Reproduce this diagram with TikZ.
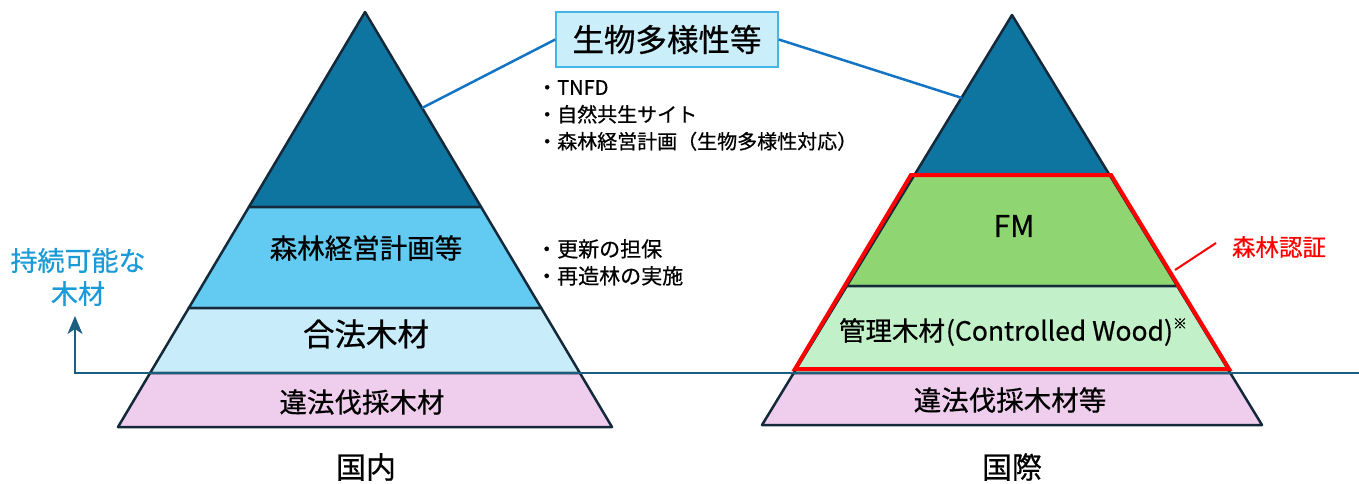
\documentclass[tikz,border=0pt]{standalone}
\usepackage{fontspec}
\setmainfont{Noto Sans CJK JP}[FakeBold=0.6]
\usetikzlibrary{arrows.meta}
\definecolor{dkteal}{HTML}{0E75A0}
\definecolor{midblue}{HTML}{63CAF1}
\definecolor{ltblue}{HTML}{C9ECFB}
\definecolor{pinkb}{HTML}{EFCDEC}
\definecolor{fmgreen}{HTML}{8FD672}
\definecolor{ltgreen}{HTML}{C2F0C8}
\definecolor{edgec}{HTML}{14293A}
\definecolor{hlinec}{HTML}{1B5E80}
\definecolor{connc}{HTML}{1474C4}
\definecolor{susblue}{HTML}{1A9AD6}
\definecolor{boxfill}{HTML}{CBEEFB}
\definecolor{boxedge}{HTML}{45B5E5}
\definecolor{certred}{HTML}{FF0000}
\newcommand{\fs}[2]{\fontsize{#1}{#2}\selectfont}
\begin{document}
\begin{tikzpicture}[x=1pt,y=-1pt,
  band/.style={draw=edgec, line width=2.5pt, line join=round},
  lbl/.style={inner sep=0pt, text=black},
  bullets/.style={inner sep=0pt, text=black, align=left, anchor=north west},
  conn/.style={draw=connc, line width=2.5pt}]
\useasboundingbox (0,0) rectangle (1359,484);
% ---------- left pyramid
\draw[band, fill=dkteal] (365,12) -- (481.1,207) -- (248.9,207) -- cycle;
\draw[band, fill=midblue] (248.9,207) -- (481.1,207) -- (541.2,308) -- (188.8,308) -- cycle;
\draw[band, fill=ltblue] (188.8,308) -- (541.2,308) -- (579.9,373) -- (150.1,373) -- cycle;
\draw[band, fill=pinkb] (150.1,373) -- (579.9,373) -- (612,427) -- (118,427) -- cycle;
% ---------- right pyramid
\draw[band, fill=dkteal] (1012,15) -- (1109.6,175) -- (914.4,175) -- cycle;
\draw[band, fill=fmgreen] (914.4,175) -- (1109.6,175) -- (1177.2,286) -- (846.8,286) -- cycle;
\draw[band, fill=ltgreen] (846.8,286) -- (1177.2,286) -- (1230.3,373) -- (793.7,373) -- cycle;
\draw[band, fill=pinkb] (793.7,373) -- (1230.3,373) -- (1262,425) -- (762,425) -- cycle;
% ---------- red certification outline
\draw[certred, line width=4pt, line join=miter] (911,175) -- (1111,175) -- (1229,369) -- (795,369) -- cycle;
% ---------- sustainability line and arrow
\node[inner sep=0pt, text=susblue, align=center, font=\fs{27}{33}] (sus) at (78,277) {持続可能な\\木材};
\coordinate (hlend) at (1359,373);
\coordinate (hlcorner) at (75,373);
\coordinate (arrtip) at (75,316);
\draw[hlinec, line width=2pt, -{Stealth[length=18pt,width=15pt,inset=5pt]}] (hlend) -- (hlcorner) -- (arrtip);
% ---------- biodiversity box
\node[draw=boxedge, fill=boxfill, line width=1.5pt, minimum width=222pt, minimum height=55pt, inner sep=0pt, font=\fs{31.5}{34}] (bio) at (667,39.5) {生物多様性等};
\coordinate (lp) at (422,108);
\coordinate (rp) at (962,98);
\draw[conn] (bio.west) -- (lp);
\draw[conn] (bio.east) -- (rp);
% ---------- bullet notes
\node[bullets, font=\fs{20}{27}] (notes1) at (537,80) {・TNFD\\・自然共生サイト\\・森林経営計画（生物多様性対応）};
\node[bullets, font=\fs{21}{27}] (notes2) at (536,239) {・更新の担保\\・再造林の実施};
% ---------- left labels
\node[lbl, font=\fs{27.5}{30}] (lforest) at (366,248) {森林経営計画等};
\node[lbl, font=\fs{31.5}{34}] (llegal) at (366,334) {合法木材};
\node[lbl, font=\fs{27.5}{30}] (lillegal) at (362,402) {違法伐採木材};
\node[lbl, font=\fs{30}{34}] (ldom) at (366,467) {国内};
% ---------- right labels
\node[lbl, font=\fs{30}{34}] (rfm) at (1014,226) {FM};
\node[lbl, font=\fs{26.5}{28}] (rcw) at (1013,332) {管理木材\hspace{1pt}(Controlled Wood)\raisebox{0.45em}{\fs{14}{14}※}};
\node[lbl, font=\fs{27.5}{30}] (rillegal) at (1010,400) {違法伐採木材等};
\node[lbl, font=\fs{30}{34}] (rint) at (1012,467) {国際};
\node[lbl, text=certred, font=\fs{23.5}{28}] (cert) at (1279,247) {森林認証};
\coordinate (certpt) at (1175,270);
\coordinate (certend) at (1216,243);
\draw[certred, line width=2pt] (certpt) -- (certend);
\end{tikzpicture}
\end{document}
